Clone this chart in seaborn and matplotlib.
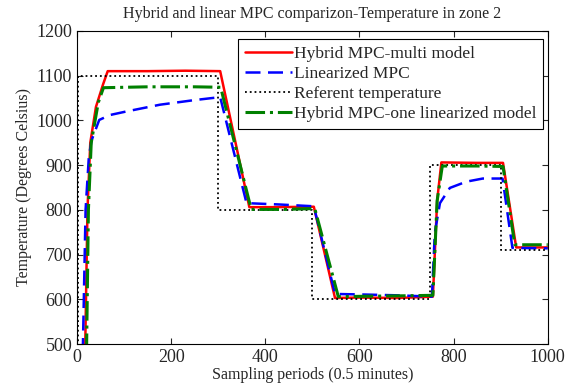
import pandas as pd
import matplotlib
matplotlib.use("Agg")
import matplotlib.pyplot as plt
import seaborn as sns

# Hybrid MPC - multi model (red)
multi_x = [17, 22, 28, 40, 55, 65, 150, 230, 304, 366, 420, 503, 548, 600, 680, 756, 765, 774, 850, 905, 933, 1000]
multi_y = [480, 800, 950, 1030, 1080, 1110, 1110, 1111, 1110, 806, 806, 807, 603, 604, 603, 606, 820, 906, 905, 905, 716, 716]

# Linearized MPC (blue)
lin_x = [12, 18, 25, 31, 47, 70, 105, 176, 247, 304, 360, 430, 503, 548, 600, 680, 754, 760, 771, 792, 827, 862, 904, 925, 1000]
lin_y = [480, 800, 920, 956, 1001, 1012, 1020, 1035, 1045, 1052, 815, 812, 808, 612, 611, 609, 606, 748, 815, 849, 863, 870, 870, 715, 714]

# Referent temperature (black dotted)
ref_x = [2, 2, 300, 300, 500, 500, 750, 750, 900, 900, 1000]
ref_y = [400, 1100, 1100, 800, 800, 600, 600, 900, 900, 711, 711]

# Hybrid MPC - one linearized model (green)
one_x = [20, 24, 30, 45, 56, 150, 250, 305, 370, 440, 505, 555, 620, 700, 756, 765, 776, 850, 905, 930, 1000]
one_y = [480, 800, 950, 1040, 1073, 1075, 1075, 1074, 801, 801, 803, 606, 607, 608, 609, 820, 898, 898, 897, 722, 722]

sns.set_style("ticks")
plt.rcParams['font.family'] = ['Liberation Serif', 'DejaVu Serif']

fig = plt.figure(figsize=(5.67, 3.91), dpi=100)
ax = fig.add_axes([0.136, 0.120, 0.830, 0.801])

common = dict(ax=ax, sort=False, estimator=None, errorbar=None)
sns.lineplot(x=multi_x, y=multi_y, color="#ff0000", lw=1.8,
             label="Hybrid MPC-multi model", **common)
sns.lineplot(x=lin_x, y=lin_y, color="#0000ff", lw=1.8,
             label="Linearized MPC", **common)
ax.lines[-1].set_dashes([6, 3])
sns.lineplot(x=ref_x, y=ref_y, color="black", lw=1.3,
             label="Referent temperature", **common)
ax.lines[-1].set_linestyle(":")
sns.lineplot(x=one_x, y=one_y, color="#008000", lw=2.2,
             label="Hybrid MPC-one linearized model", **common)
ax.lines[-1].set_linestyle("-.")

ax.set_xlim(0, 1000)
ax.set_ylim(500, 1200)
ax.set_xticks(range(0, 1001, 200))
ax.set_yticks(range(500, 1201, 100))
ax.tick_params(direction="in", top=True, right=True, labelsize=13, length=4)
for s in ax.spines.values():
    s.set_color("black")
    s.set_linewidth(0.8)

ax.set_title("Hybrid and linear MPC comparizon-Temperature in zone 2", fontsize=11.5, pad=9)
ax.set_xlabel("Sampling periods (0.5 minutes)", fontsize=11.5, labelpad=1)
ax.set_ylabel("Temperature (Degrees Celsius)", fontsize=11.5, labelpad=3)

leg = ax.legend(loc="upper right", bbox_to_anchor=(0.991, 0.974), fontsize=12.5,
                handlelength=2.7, handletextpad=0.1, labelspacing=0.22,
                borderaxespad=0, fancybox=False, framealpha=1, borderpad=0.4)
leg.get_frame().set_edgecolor("black")
leg.get_frame().set_linewidth(0.8)

fig.savefig("out.png", dpi=100)
